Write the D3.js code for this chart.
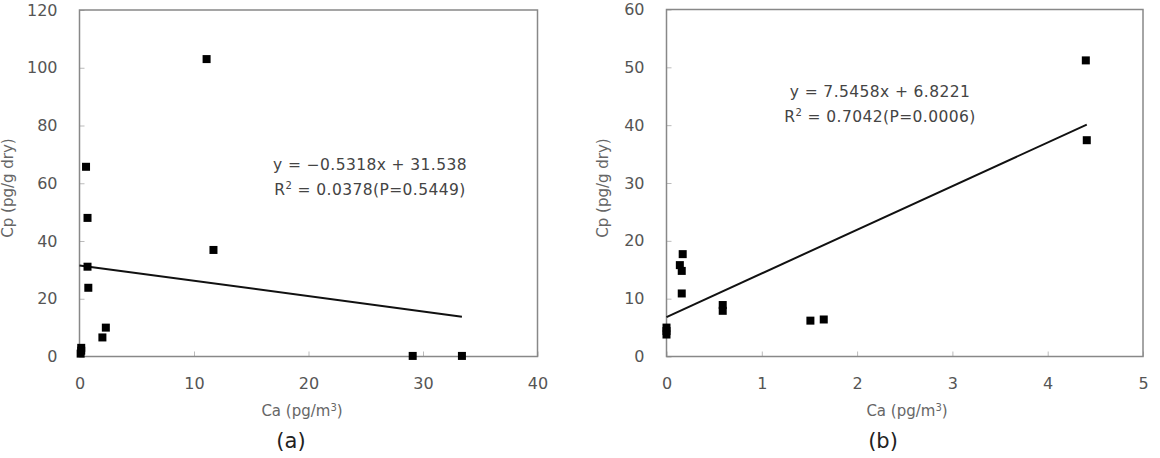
<!DOCTYPE html>
<html>
<head>
  <meta charset="utf-8">
  <script src="https://d3js.org/d3.v7.min.js"></script>
  <style>
    body { margin: 0; background: #fff; }
    text { font-family: "DejaVu Sans", sans-serif; }
    .tick text { fill: #555; font-size: 16px; }
    .tick line { stroke: #bbb; }
    .lbl { fill: #666; font-size: 15px; }
  </style>
</head>
<body>
  <script type="text/javascript">
    // panel (a)
    var caA = [0.1, 0.15, 0.15, 0.57, 0.7, 0.7, 0.77, 2.0, 2.3, 11.1, 11.7, 29.1, 33.4];
    var cpA = [1.0, 2.0, 3.0, 65.7, 48.0, 31.1, 23.8, 6.6, 10.0, 103.0, 36.9, 0.2, 0.2];
    var fitA = { slope: -0.5318, icpt: 31.538 };
    var eqA = ["y = \u22120.5318x + 31.538", " = 0.0378(P=0.5449)"];

    // panel (b)
    var caB = [0.0, 0.0, 0.0, 0.17, 0.14, 0.16, 0.16, 0.59, 0.59, 1.51, 1.65, 4.40, 4.41];
    var cpB = [5.0, 4.4, 3.8, 17.7, 15.8, 14.8, 10.9, 8.9, 7.9, 6.2, 6.4, 51.2, 37.4];
    var fitB = { slope: 7.5458, icpt: 6.8221 };
    var eqB = ["y = 7.5458x + 6.8221", " = 0.7042(P=0.0006)"];

    var svg = d3.select("body").append("svg")
                .attr("width", 1160)
                .attr("height", 458);

    function panel(cfg) {
      var x = d3.scaleLinear().domain(cfg.xDom).range(cfg.xRange);
      var y = d3.scaleLinear().domain(cfg.yDom).range(cfg.yRange);
      var g = svg.append("g");

      g.append("g")
        .attr("transform", "translate(0," + cfg.yRange[0] + ")")
        .call(d3.axisBottom(x).ticks(cfg.xTicks).tickSize(-5).tickSizeOuter(0).tickPadding(21))
        .call(function (a) { a.select(".domain").remove(); });

      g.append("g")
        .attr("transform", "translate(" + cfg.xRange[0] + ",0)")
        .call(d3.axisLeft(y).ticks(6).tickSize(-5).tickSizeOuter(0).tickPadding(22))
        .call(function (a) { a.select(".domain").remove(); });

      // frame
      g.append("rect")
        .attr("x", cfg.xRange[0])
        .attr("y", cfg.yRange[1])
        .attr("width", cfg.xRange[1] - cfg.xRange[0])
        .attr("height", cfg.yRange[0] - cfg.yRange[1])
        .attr("fill", "none")
        .attr("stroke", "#888")
        .attr("stroke-width", 1.5);

      // trend line from 0 to max x
      var x1 = d3.max(cfg.xs);
      g.append("line")
        .attr("x1", x(0)).attr("y1", y(cfg.fit.icpt))
        .attr("x2", x(x1)).attr("y2", y(cfg.fit.slope * x1 + cfg.fit.icpt))
        .attr("stroke", "#111")
        .attr("stroke-width", 2);

      g.selectAll("rect.pt")
        .data(cfg.xs)
        .enter().append("rect")
        .attr("class", "pt")
        .attr("x", function (d) { return x(d) - 4; })
        .attr("y", function (d, i) { return y(cfg.ys[i]) - 4; })
        .attr("width", 8)
        .attr("height", 8)
        .attr("fill", "#000");

      // equation
      g.append("text")
        .attr("x", cfg.eqX).attr("y", cfg.eqY)
        .attr("text-anchor", "middle")
        .attr("fill", "#444")
        .style("font-size", "15.5px")
        .style("letter-spacing", "0.4px")
        .text(cfg.eq[0]);
      var r2 = g.append("text")
        .attr("x", cfg.eqX).attr("y", cfg.eqY + 25)
        .attr("text-anchor", "middle")
        .attr("fill", "#444")
        .style("font-size", "15.5px")
        .style("letter-spacing", "0.4px");
      r2.append("tspan").text("R");
      r2.append("tspan").attr("dy", -6).style("font-size", "10px").text("2");
      r2.append("tspan").attr("dy", 6).text(cfg.eq[1]);

      // axis titles
      var xl = g.append("text")
        .attr("class", "lbl")
        .attr("x", cfg.xlX).attr("y", 416)
        .attr("text-anchor", "middle");
      xl.append("tspan").text("Ca (pg/m");
      xl.append("tspan").attr("dy", -5).style("font-size", "10px").text("3");
      xl.append("tspan").attr("dy", 5).text(")");

      g.append("text")
        .attr("class", "lbl")
        .attr("transform", "translate(" + cfg.ylX + ",188) rotate(-90)")
        .attr("text-anchor", "middle")
        .text("Cp (pg/g dry)");

      g.append("text")
        .attr("x", cfg.capX).attr("y", 448)
        .attr("text-anchor", "middle")
        .attr("fill", "#222")
        .style("font-size", "21px")
        .text(cfg.cap);
    }

    panel({ xs: caA, ys: cpA, fit: fitA, eq: eqA,
            xDom: [0, 40], xRange: [79.5, 537.5], xTicks: 4,
            yDom: [0, 120], yRange: [356.5, 10],
            eqX: 370, eqY: 170, xlX: 302, ylX: 13, capX: 291, cap: "(a)" });

    panel({ xs: caB, ys: cpB, fit: fitB, eq: eqB,
            xDom: [0, 5], xRange: [666.5, 1143], xTicks: 5,
            yDom: [0, 60], yRange: [356.5, 9.5],
            eqX: 880, eqY: 97, xlX: 907, ylX: 608, capX: 883, cap: "(b)" });
  </script>
</body>
</html>
